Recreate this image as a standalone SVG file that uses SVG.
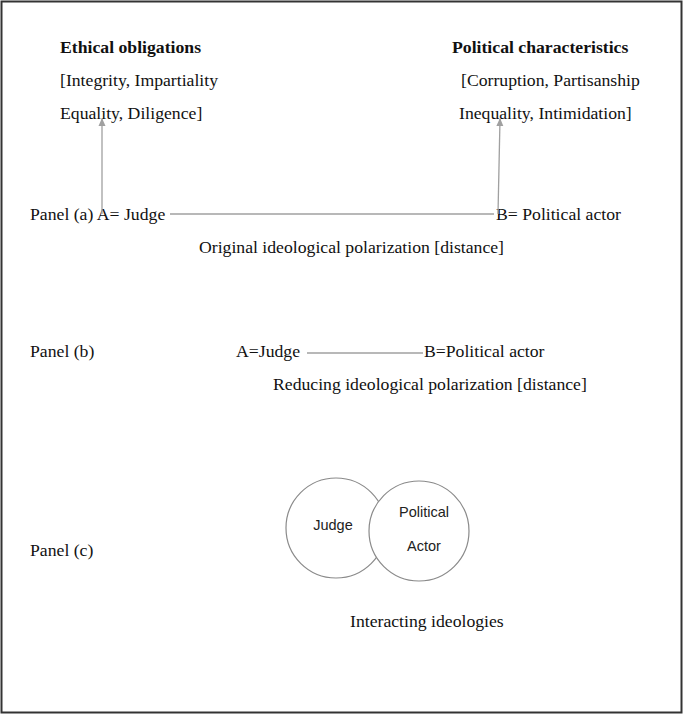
<svg xmlns="http://www.w3.org/2000/svg" width="684" height="717" viewBox="0 0 684 717">
<style>
.t{font-family:"Liberation Serif","Times New Roman",serif;font-size:17.7px;fill:#111}
.b{font-weight:bold}
.s{font-family:"Liberation Sans",Arial,sans-serif;font-size:14.5px;fill:#222;text-anchor:middle}
.ln{stroke:#a0a0a0;stroke-width:1.3;fill:none}
.c{stroke:#8a8a8a;stroke-width:1.2;fill:#fff}
</style>
<defs>
<marker id="ah" markerWidth="8" markerHeight="8" refX="7" refY="4" orient="auto" markerUnits="userSpaceOnUse">
<path d="M0,0.5 L8,4 L0,7.5 Z" fill="#a0a0a0"/>
</marker>
</defs>
<rect x="1.5" y="1.5" width="680" height="711" fill="#fff" stroke="#333" stroke-width="2"/>
<g id="ethical">
<text class="t b" x="60" y="53">Ethical obligations</text>
<text class="t" x="60" y="86">[Integrity, Impartiality</text>
<text class="t" x="60" y="119">Equality, Diligence]</text>
</g>
<g id="political">
<text class="t b" x="452" y="53">Political characteristics</text>
<text class="t" x="461" y="86">[Corruption, Partisanship</text>
<text class="t" x="459" y="119">Inequality, Intimidation]</text>
</g>
<g id="panel-a">
<text class="t" x="30" y="220">Panel (a) A= Judge</text>
<text class="t" x="496" y="220">B= Political actor</text>
<text class="t" x="199" y="253">Original ideological polarization [distance]</text>
</g>
<g id="panel-b">
<text class="t" x="30" y="357">Panel (b)</text>
<text class="t" x="236" y="357">A=Judge</text>
<text class="t" x="424" y="357">B=Political actor</text>
<text class="t" x="273" y="390">Reducing ideological polarization [distance]</text>
</g>
<g id="panel-c">
<text class="t" x="30" y="556">Panel (c)</text>
<text class="t" x="350" y="627">Interacting ideologies</text>
</g>
<g id="judge-circle">
<circle class="c" cx="336" cy="528" r="50"/>
</g>
<g id="actor-circle">
<circle class="c" cx="419" cy="531" r="50"/>
<text class="s" x="424" y="517">Political</text>
<text class="s" x="424" y="551">Actor</text>
</g>
<g id="judge-label">
<text class="s" x="333" y="530">Judge</text>
</g>
<g id="connectors">
<line class="ln" x1="102" y1="214" x2="102" y2="119" marker-end="url(#ah)"/>
<line class="ln" x1="498" y1="214" x2="500" y2="119" marker-end="url(#ah)"/>
<line class="ln" x1="170" y1="214" x2="494" y2="214"/>
<line class="ln" x1="307" y1="353" x2="423" y2="353"/>
</g>
</svg>
